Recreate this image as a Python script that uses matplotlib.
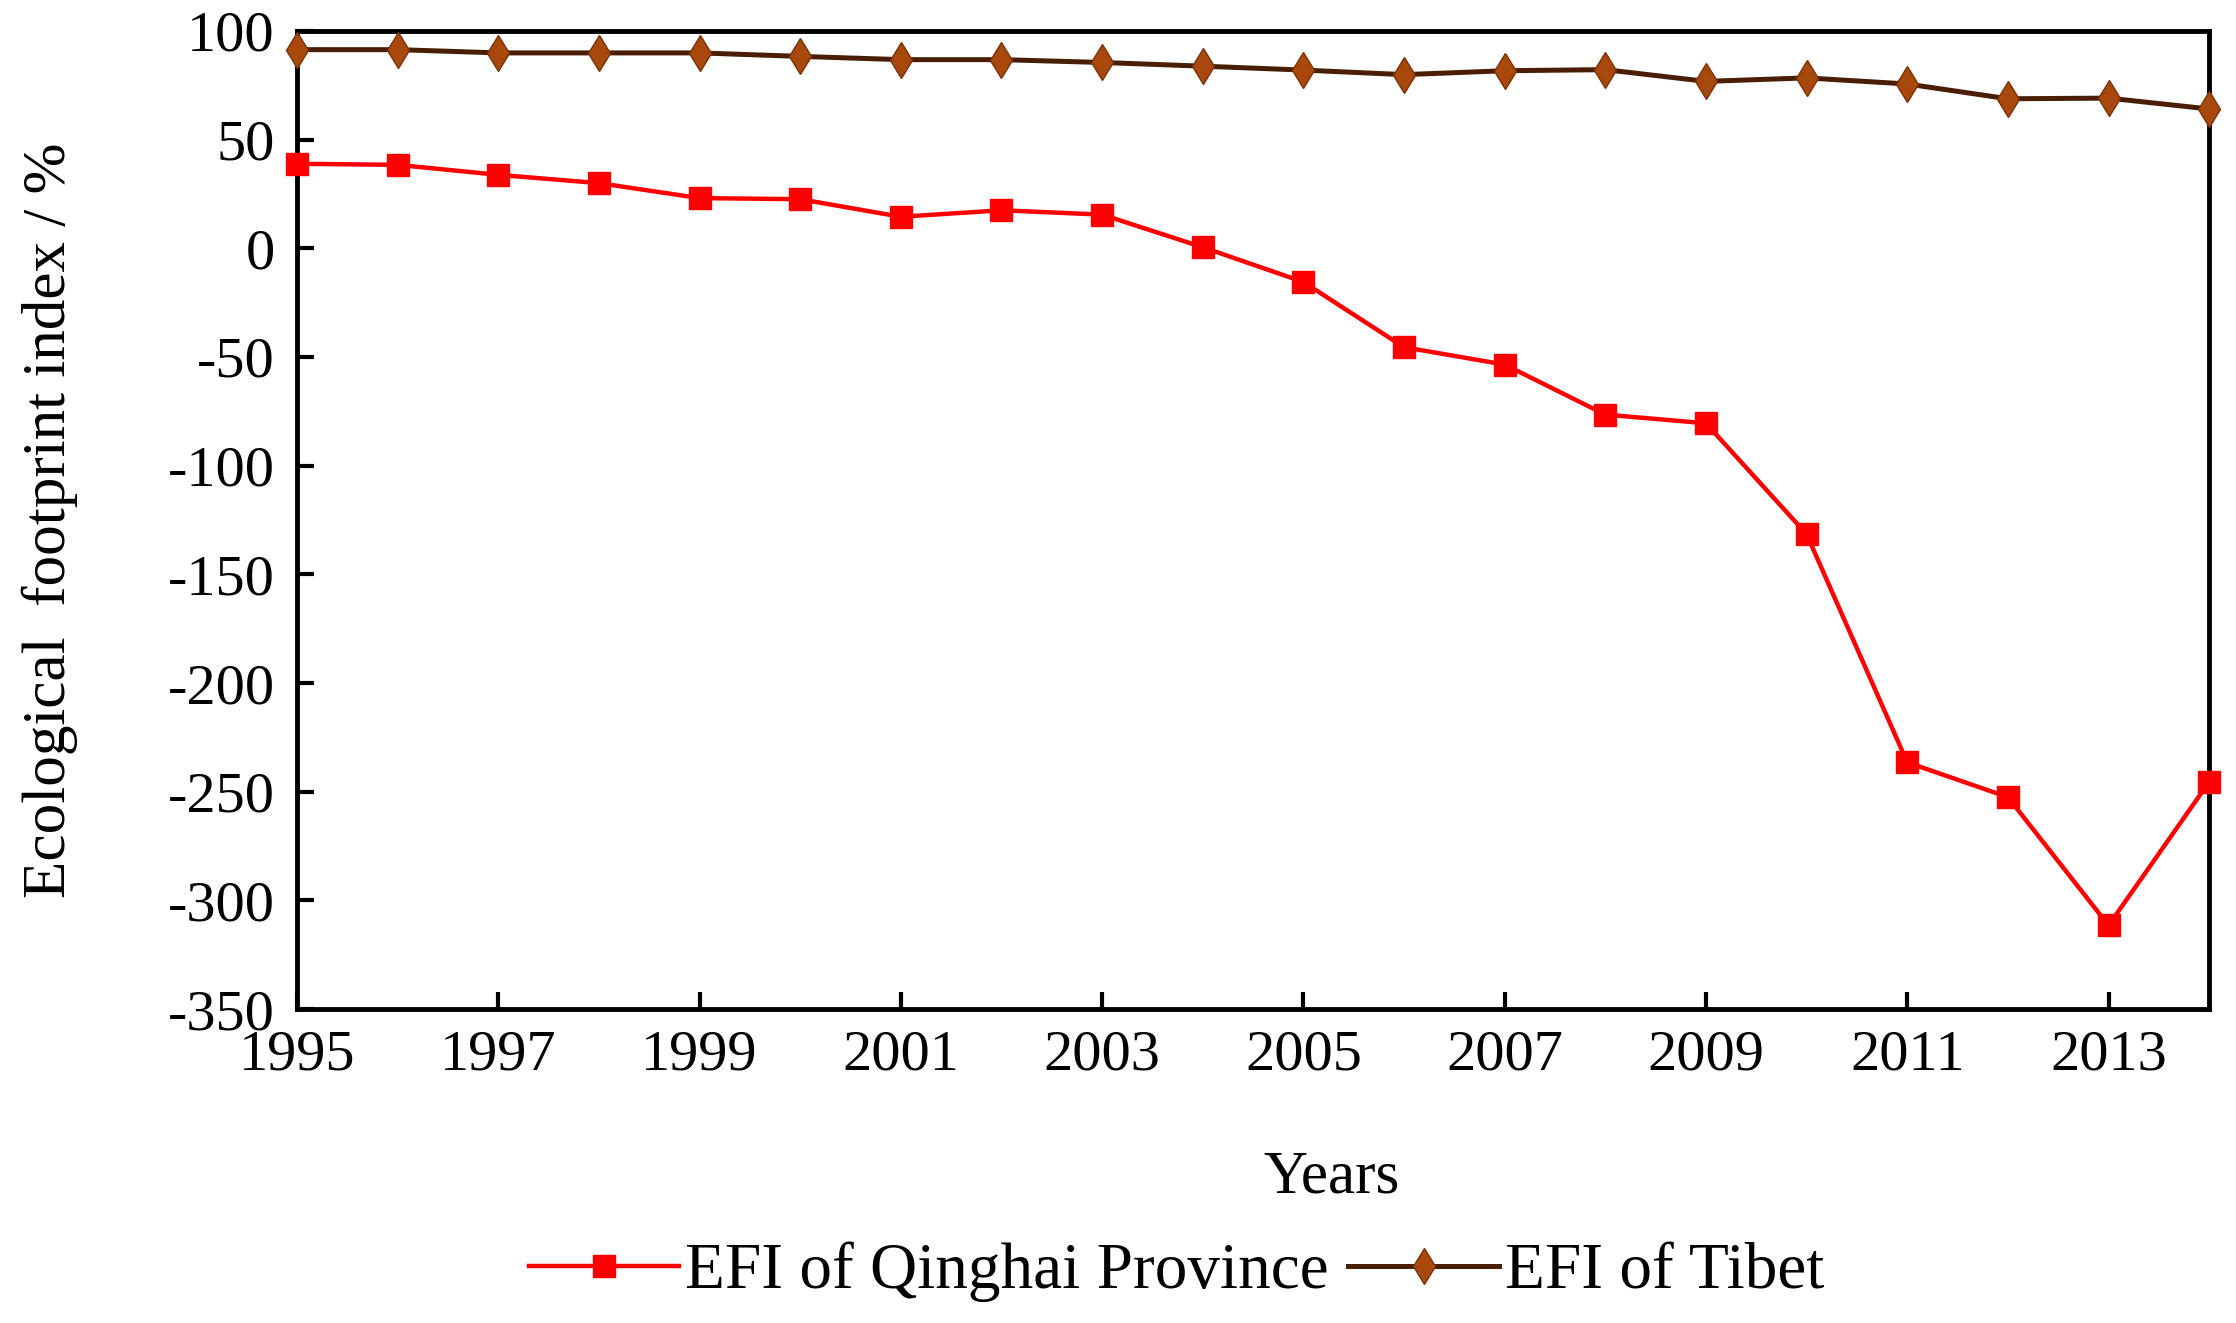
import matplotlib
matplotlib.use('Agg')
import matplotlib.pyplot as plt

# valores
anios = list(range(1995, 2015))
efi_qinghai = [38.9, 38.4, 33.8, 30.0, 23.1, 22.6, 14.5, 17.5, 15.5, 0.5,
               -15.5, -45.5, -53.5, -76.5, -80.5, -131.5, -236.5, -252.5, -311.5, -245.5]
efi_tibet = [91.4, 91.4, 89.9, 89.9, 89.9, 88.3, 86.8, 86.8, 85.5, 83.8,
             82.0, 79.9, 81.7, 82.2, 76.8, 78.4, 75.6, 68.8, 69.1, 64.1]

plt.rcParams['font.family'] = ['Liberation Serif', 'DejaVu Serif']
plt.rcParams['axes.unicode_minus'] = False

fig = plt.figure(figsize=(22.36, 13.23), dpi=100)
ax = fig.add_axes([0.1328, 0.2373, 0.8552, 0.7393])

ax.plot(anios, efi_qinghai, color='#ff0000', lw=3.2, marker='s', markersize=16,
        markerfacecolor='#ff0000', markeredgecolor='#ff0000',
        label='EFI of Qinghai Province', clip_on=False, zorder=3)
ax.plot(anios, efi_tibet, color='#4a1e05', lw=3.6, marker='d', markersize=18,
        markerfacecolor='#a8480c', markeredgecolor='#7a3208',
        label='EFI of Tibet', clip_on=False, zorder=4)

ax.set_xlim(1995, 2014)
ax.set_ylim(-350, 100)
ax.set_xticks(range(1995, 2015, 2))
ax.set_yticks(range(-350, 101, 50))

for s in ax.spines.values():
    s.set_linewidth(3.5)
ax.tick_params(direction='in', length=12, width=3, labelsize=42, pad=16)
ax.tick_params(axis='x', pad=15)

ax.set_xlabel('Years', fontsize=44, va='center')
ax.xaxis.set_label_coords(0.541, -0.172)
ax.set_ylabel('Ecological  footprint index / %', fontsize=44, va='center')
ax.yaxis.set_label_coords(-0.129, 0.5)

ax.legend(loc='center', bbox_to_anchor=(0.46, -0.269), ncol=2, frameon=False,
          fontsize=47, handlelength=2.3, handletextpad=0.1, columnspacing=0.3,
          borderaxespad=0)

fig.savefig('out.png', dpi=100)
